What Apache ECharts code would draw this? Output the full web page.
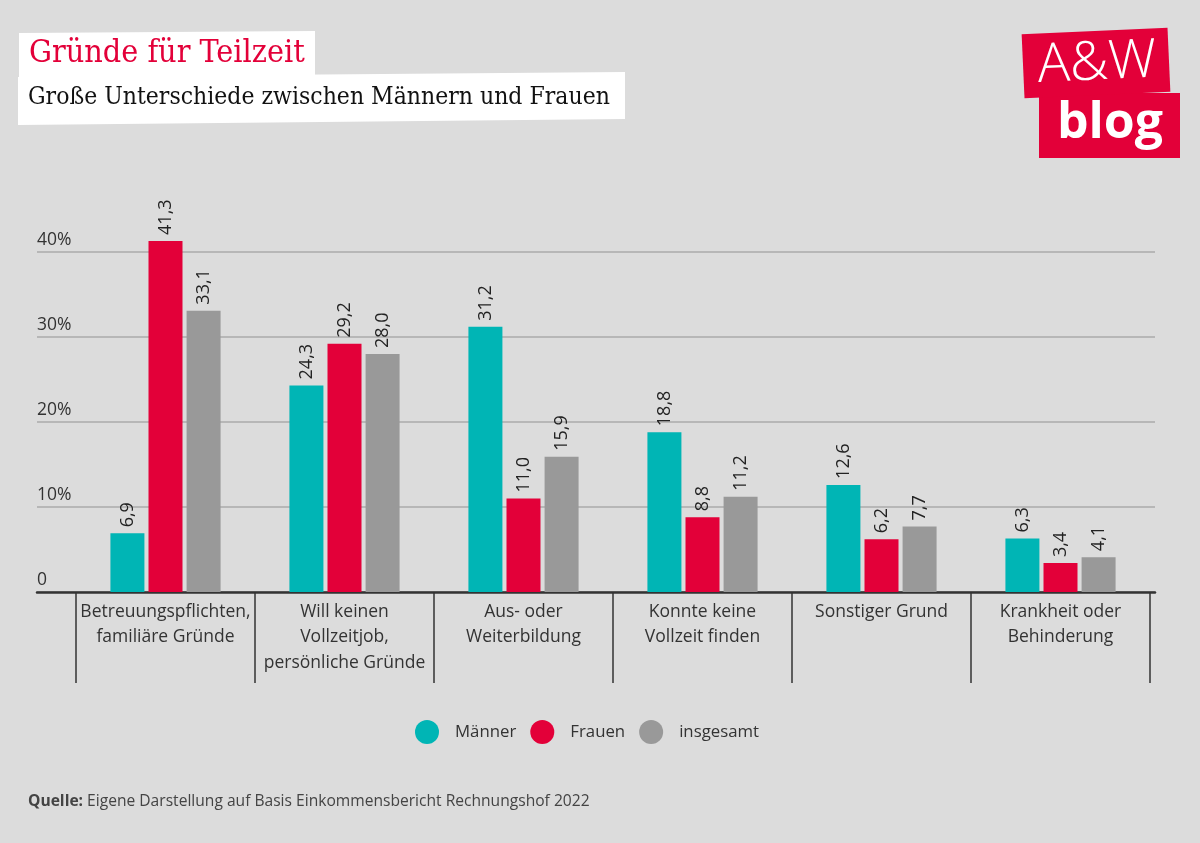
<!DOCTYPE html>
<html>
<head>
<meta charset="utf-8">
<script src="https://cdn.jsdelivr.net/npm/echarts@6/dist/echarts.min.js"></script>
<style>
html,body{margin:0;padding:0;background:#dcdcdc;}
#c{width:1200px;height:843px;}
</style>
</head>
<body>
<div id="c"></div>
<script>
const categories = [
  'Betreuungspflichten,\nfamiliäre Gründe',
  'Will keinen\nVollzeitjob,\npersönliche Gründe',
  'Aus- oder\nWeiterbildung',
  'Konnte keine\nVollzeit finden',
  'Sonstiger Grund',
  'Krankheit oder\nBehinderung'
];
const seriesNames = ['Männer', 'Frauen', 'insgesamt'];
const maenner = [6.9, 24.3, 31.2, 18.8, 12.6, 6.3];
const frauen = [41.3, 29.2, 11.0, 8.8, 6.2, 3.4];
const insgesamt = [33.1, 28.0, 15.9, 11.2, 7.7, 4.1];
const yMin = 0, yMax = 40, yInterval = 10;

const RED = '#e30039', TEAL = '#00b5b5', GREY = '#999999';
const FONT = 'Open Sans';
const SERIF = 'DejaVu Serif Condensed, DejaVu Serif';
const colors = [TEAL, RED, GREY];
const dataSets = [maenner, frauen, insgesamt];

const chart = echarts.init(document.getElementById('c'), null, {renderer: 'canvas'});

const series = dataSets.map((d, i) => ({
  name: seriesNames[i],
  type: 'bar',
  xAxisIndex: 1,
  yAxisIndex: 1,
  data: d,
  barWidth: 34,
  barGap: '12%',
  clip: false,
  itemStyle: {color: colors[i]},
  label: {
    show: true,
    position: 'top',
    distance: 6,
    rotate: 90,
    align: 'left',
    verticalAlign: 'middle',
    fontFamily: FONT,
    fontSize: 18,
    color: '#222',
    formatter: p => p.value.toFixed(1).replace('.', ',')
  }
}));

chart.setOption({
  backgroundColor: '#dcdcdc',
  animation: false,
  title: [
    {
      text: 'Gründe für Teilzeit',
      left: 29, top: 38,
      padding: 0, z: 10,
      textStyle: {fontFamily: SERIF, fontSize: 32, fontWeight: 'normal', color: RED}
    },
    {
      text: 'Große Unterschiede zwischen Männern und Frauen',
      left: 28, top: 85,
      padding: 0, z: 10,
      textStyle: {fontFamily: SERIF, fontSize: 24.5, fontWeight: 'normal', color: '#111'}
    },
    {
      text: '{b|Quelle:} Eigene Darstellung auf Basis Einkommensbericht Rechnungshof 2022',
      left: 28, top: 794,
      padding: 0,
      textStyle: {
        fontFamily: FONT, fontSize: 15.6, fontWeight: 'normal', color: '#444',
        rich: {b: {fontFamily: FONT, fontSize: 15.6, fontWeight: 'bold', color: '#444'}}
      }
    }
  ],
  legend: {
    data: seriesNames,
    left: 415, top: 720,
    icon: 'circle',
    itemWidth: 24, itemHeight: 24,
    itemGap: 14,
    padding: 0,
    textStyle: {fontFamily: FONT, fontSize: 16.8, color: '#333', padding: [0, 0, 0, 11]}
  },
  grid: [
    {left: 37, right: 45, top: 252, bottom: 251},
    {left: 76, right: 50, top: 252, bottom: 251}
  ],
  xAxis: [
    {
      gridIndex: 0, type: 'value', min: 0, max: 1,
      axisLine: {show: true, onZero: false, lineStyle: {color: '#333', width: 2.5}},
      axisTick: {show: false}, axisLabel: {show: false}, splitLine: {show: false}
    },
    {
      gridIndex: 1, type: 'category', data: categories,
      axisLine: {show: false},
      axisTick: {show: true, length: 91, interval: 0, lineStyle: {color: '#333', width: 1.5}},
      axisLabel: {interval: 0, margin: 7, fontFamily: FONT, fontSize: 17.5, lineHeight: 25.5, color: '#333'}
    }
  ],
  yAxis: [
    {
      gridIndex: 0, type: 'value', min: yMin, max: yMax, interval: yInterval,
      axisLine: {show: false}, axisTick: {show: false},
      splitLine: {lineStyle: {color: '#ababab', width: 1.5}},
      axisLabel: {
        align: 'left', verticalAlign: 'bottom', margin: 0, padding: [0, 0, 3, 0],
        fontFamily: FONT, fontSize: 17.5, color: '#333',
        formatter: v => v === 0 ? '0' : v + '%'
      }
    },
    {
      gridIndex: 1, type: 'value', min: yMin, max: yMax, interval: yInterval,
      show: false
    }
  ],
  series: series,
  graphic: [
    {
      type: 'polygon', z: 1,
      shape: {points: [[18, 77], [625, 72], [625, 119], [18, 125]]},
      style: {fill: '#fff'}
    },
    {
      type: 'polygon', z: 2,
      shape: {points: [[19, 33], [315, 31], [315, 82], [19, 82]]},
      style: {fill: '#fff'}
    },
    {
      type: 'rect', shape: {x: -73, y: -32, width: 146, height: 64},
      x: 1096, y: 63, rotation: 0.045,
      style: {fill: RED}, z: 10
    },
    {
      type: 'text', x: 1097, y: 64, rotation: 0.045,
      style: {text: 'A&W', fill: '#fff', font: '300 54px "Open Sans"', textAlign: 'center', textVerticalAlign: 'middle'},
      z: 12
    },
    {
      type: 'rect', shape: {x: 1039, y: 93, width: 141, height: 65},
      style: {fill: RED}, z: 9
    },
    {
      type: 'text', x: 1110, y: 124,
      style: {text: 'blog', fill: '#fff', font: 'bold 50px "Open Sans"', textAlign: 'center', textVerticalAlign: 'middle'},
      z: 12
    }
  ]
});
</script>
</body>
</html>
